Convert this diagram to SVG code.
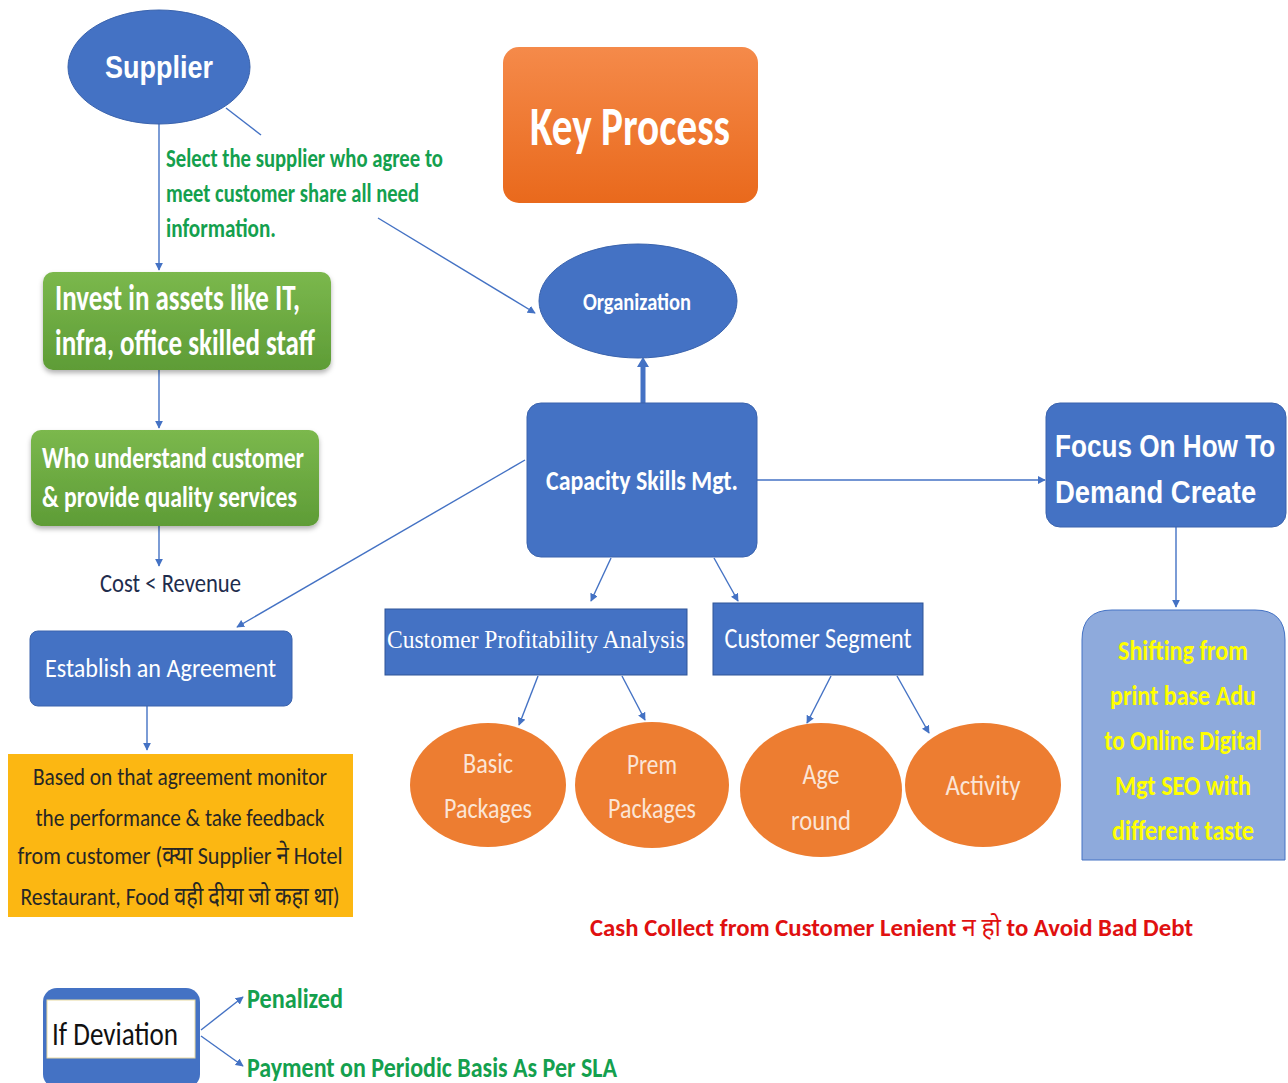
<svg xmlns="http://www.w3.org/2000/svg" width="1288" height="1083" viewBox="0 0 1288 1083">
  <defs>
    <linearGradient id="gGreen" x1="0" y1="0" x2="0" y2="1">
      <stop offset="0" stop-color="#7bb84d"/>
      <stop offset="1" stop-color="#5e9c36"/>
    </linearGradient>
    <linearGradient id="gOrange" x1="0" y1="0" x2="0" y2="1">
      <stop offset="0" stop-color="#f58a4a"/>
      <stop offset="1" stop-color="#e9691c"/>
    </linearGradient>
    <filter id="shadow" x="-10%" y="-10%" width="120%" height="130%">
      <feDropShadow dx="0" dy="3" stdDeviation="2.5" flood-color="#000" flood-opacity="0.3"/>
    </filter>
    <marker id="arr" viewBox="0 0 10 10" refX="9" refY="5" markerWidth="8" markerHeight="8" orient="auto" markerUnits="userSpaceOnUse">
      <path d="M0,0 L10,5 L0,10 z" fill="#4472c4"/>
    </marker>
    <style>
      .c { font-family: Carlito, "Liberation Sans Narrow", "Liberation Sans", "Noto Sans Devanagari", "Noto Sans", sans-serif; }
      .ar { font-family: "Liberation Sans", Arial, sans-serif; font-weight: bold; }
      .b { font-weight: bold; }
      .w { fill: #ffffff; }
      .blue { fill: #4472c4; }
      .line { stroke: #4472c4; stroke-width: 1.4; fill: none; marker-end: url(#arr); }
      .orange { fill: #ed7d31; }
      .pk { fill: #fbe5d6; font-size: 28px; text-anchor: middle; }
      .grn { fill: #14a04e; }
    </style>
  </defs>

  <rect width="1288" height="1083" fill="#ffffff"/>

  <!-- connectors -->
  <g id="connectors">
    <line class="line" x1="159" y1="124" x2="159" y2="270"/>
    <line x1="226" y1="108" x2="261" y2="135" stroke="#4472c4" stroke-width="1.4"/>
    <line class="line" x1="378" y1="218" x2="535" y2="313"/>
    <line class="line" x1="159" y1="370" x2="159" y2="428"/>
    <line class="line" x1="159" y1="526" x2="159" y2="566"/>
    <line class="line" x1="147" y1="706" x2="147" y2="750"/>
    <line class="line" x1="525" y1="460" x2="237" y2="627"/>
    <line x1="643" y1="403" x2="643" y2="366" stroke="#4472c4" stroke-width="5"/>
    <path d="M637,367 L643,357 L649,367 z" fill="#4472c4"/>
    <line class="line" x1="757" y1="480" x2="1045" y2="480"/>
    <line class="line" x1="611" y1="558" x2="591" y2="601"/>
    <line class="line" x1="714" y1="558" x2="738" y2="601"/>
    <line class="line" x1="1176" y1="527" x2="1176" y2="607"/>
    <line class="line" x1="538" y1="676" x2="519" y2="725"/>
    <line class="line" x1="622" y1="676" x2="645" y2="720"/>
    <line class="line" x1="831" y1="676" x2="807" y2="723"/>
    <line class="line" x1="897" y1="676" x2="929" y2="733"/>
    <line class="line" x1="201" y1="1030" x2="243" y2="997"/>
    <line class="line" x1="201" y1="1036" x2="243" y2="1066"/>
  </g>

  <!-- Supplier -->
  <g id="supplier">
    <ellipse cx="159" cy="67" rx="91" ry="57" class="blue" stroke="#3a63ad" stroke-width="1"/>
    <text x="159" y="78" text-anchor="middle" class="ar w" font-size="32" textLength="108" lengthAdjust="spacingAndGlyphs">Supplier</text>
  </g>

  <!-- Supplier selection note -->
  <g id="note-select" class="c grn b" font-size="26">
    <text x="166" y="167" textLength="277" lengthAdjust="spacingAndGlyphs">Select the supplier who agree to</text>
    <text x="166" y="202" textLength="253" lengthAdjust="spacingAndGlyphs">meet customer share all need</text>
    <text x="166" y="237" textLength="110" lengthAdjust="spacingAndGlyphs">information.</text>
  </g>

  <!-- Key Process -->
  <g id="key-process">
    <rect x="503" y="47" width="255" height="156" rx="16" fill="url(#gOrange)"/>
    <text x="630" y="145" text-anchor="middle" class="c w b" font-size="54" textLength="200" lengthAdjust="spacingAndGlyphs">Key Process</text>
  </g>

  <!-- Organization -->
  <g id="organization">
    <ellipse cx="638" cy="301" rx="99" ry="57" class="blue" stroke="#3a63ad" stroke-width="1"/>
    <text x="637" y="310" text-anchor="middle" class="c w b" font-size="25" textLength="108" lengthAdjust="spacingAndGlyphs">Organization</text>
  </g>

  <!-- Invest -->
  <g id="invest">
    <rect x="43" y="272" width="288" height="98" rx="10" fill="url(#gGreen)" filter="url(#shadow)"/>
    <text x="55" y="310" class="c w b" font-size="36" textLength="245" lengthAdjust="spacingAndGlyphs">Invest in assets like IT,</text>
    <text x="55" y="355" class="c w b" font-size="36" textLength="260" lengthAdjust="spacingAndGlyphs">infra, office skilled staff</text>
  </g>

  <!-- Who understand -->
  <g id="understand">
    <rect x="31" y="430" width="288" height="96" rx="10" fill="url(#gGreen)" filter="url(#shadow)"/>
    <text x="42" y="468" class="c w b" font-size="30" textLength="262" lengthAdjust="spacingAndGlyphs">Who understand customer</text>
    <text x="42" y="507" class="c w b" font-size="30" textLength="255" lengthAdjust="spacingAndGlyphs">&amp; provide quality services</text>
  </g>

  <!-- Cost < Revenue -->
  <g id="cost-revenue">
    <text x="100" y="592" class="c" fill="#1f2d4d" font-size="26" textLength="141" lengthAdjust="spacingAndGlyphs">Cost &lt; Revenue</text>
  </g>

  <!-- Establish an Agreement -->
  <g id="agreement">
    <rect x="30" y="631" width="262" height="75" rx="8" class="blue" stroke="#3a63ad" stroke-width="1"/>
    <text x="45" y="677" class="c w" font-size="27" textLength="231" lengthAdjust="spacingAndGlyphs">Establish an Agreement</text>
  </g>

  <!-- Monitoring -->
  <g id="monitor">
    <rect x="8" y="754" width="345" height="163" fill="#fcb712"/>
    <g class="c" fill="#262626" font-size="25" text-anchor="middle">
      <text x="180" y="785" textLength="294" lengthAdjust="spacingAndGlyphs">Based on that agreement  monitor</text>
      <text x="180" y="826" textLength="289" lengthAdjust="spacingAndGlyphs">the performance  &amp; take feedback</text>
      <text x="180" y="864" textLength="325" lengthAdjust="spacingAndGlyphs">from customer (क्या Supplier ने  Hotel</text>
      <text x="180" y="905" textLength="319" lengthAdjust="spacingAndGlyphs">Restaurant, Food वही दीया जो कहा था)</text>
    </g>
  </g>

  <!-- If Deviation -->
  <g id="deviation">
    <rect x="43" y="988" width="157" height="100" rx="14" class="blue"/>
    <rect x="47" y="1000" width="148" height="58" fill="#ffffff" stroke="#e8d9a0" stroke-width="1"/>
    <text x="52" y="1045" class="c" fill="#111" font-size="33" textLength="126" lengthAdjust="spacingAndGlyphs">If Deviation</text>
  </g>
  <g id="penalized">
    <text x="247" y="1008" class="c grn b" font-size="29" textLength="96" lengthAdjust="spacingAndGlyphs">Penalized</text>
  </g>
  <g id="payment">
    <text x="247" y="1077" class="c grn b" font-size="29" textLength="370" lengthAdjust="spacingAndGlyphs">Payment on Periodic Basis As Per SLA</text>
  </g>

  <!-- Capacity Skills Mgt. -->
  <g id="capacity">
    <rect x="527" y="403" width="230" height="154" rx="14" class="blue" stroke="#3a63ad" stroke-width="1"/>
    <text x="642" y="490" text-anchor="middle" class="c w b" font-size="29" textLength="192" lengthAdjust="spacingAndGlyphs">Capacity Skills Mgt.</text>
  </g>

  <!-- Focus On How To Demand Create (bold sans, horizontally condensed) -->
  <g id="focus">
    <rect x="1046" y="403" width="240" height="124" rx="14" class="blue" stroke="#3a63ad" stroke-width="1"/>
    <text transform="translate(1055,457) scale(0.86,1)" class="ar w" font-size="31" textLength="256" lengthAdjust="spacingAndGlyphs">Focus On How To</text>
    <text transform="translate(1055,503) scale(0.86,1)" class="ar w" font-size="31" textLength="234" lengthAdjust="spacingAndGlyphs">Demand Create</text>
  </g>

  <!-- Shifting -->
  <g id="shifting">
    <path d="M1112,610 H1255 Q1285,610 1285,640 V860 H1082 V640 Q1082,610 1112,610 z" fill="#8eaadc" stroke="#4472c4" stroke-width="1"/>
    <g class="c b" fill="#ffff00" font-size="28" text-anchor="middle">
      <text x="1183" y="660" textLength="130" lengthAdjust="spacingAndGlyphs">Shifting from</text>
      <text x="1183" y="705" textLength="146" lengthAdjust="spacingAndGlyphs">print base Adu</text>
      <text transform="translate(1183,750) scale(0.87,1)" textLength="181" lengthAdjust="spacingAndGlyphs">to Online Digital</text>
      <text x="1183" y="795" textLength="136" lengthAdjust="spacingAndGlyphs">Mgt SEO with</text>
      <text x="1183" y="840" textLength="142" lengthAdjust="spacingAndGlyphs">different taste</text>
    </g>
  </g>

  <!-- Customer Profitability Analysis -->
  <g id="profitability">
    <rect x="385" y="609" width="302" height="66" class="blue" stroke="#2f5597" stroke-width="1"/>
    <text x="536" y="648" text-anchor="middle" font-family="'Liberation Serif', 'Times New Roman', serif" class="w" font-size="26" textLength="298" lengthAdjust="spacingAndGlyphs">Customer Profitability  Analysis</text>
  </g>

  <!-- Customer Segment -->
  <g id="segment">
    <rect x="713" y="603" width="210" height="72" class="blue" stroke="#2f5597" stroke-width="1"/>
    <text x="818" y="648" text-anchor="middle" class="c w" font-size="28" textLength="187" lengthAdjust="spacingAndGlyphs">Customer Segment</text>
  </g>

  <!-- Packages and segments -->
  <g id="basic">
    <ellipse cx="488" cy="785" rx="78" ry="62" class="orange"/>
    <text x="488" y="773" class="c pk" textLength="50" lengthAdjust="spacingAndGlyphs">Basic</text>
    <text x="488" y="818" class="c pk" textLength="88" lengthAdjust="spacingAndGlyphs">Packages</text>
  </g>
  <g id="prem">
    <ellipse cx="652" cy="785" rx="77" ry="63" class="orange"/>
    <text x="652" y="774" class="c pk" textLength="50" lengthAdjust="spacingAndGlyphs">Prem</text>
    <text x="652" y="818" class="c pk" textLength="88" lengthAdjust="spacingAndGlyphs">Packages</text>
  </g>
  <g id="age">
    <ellipse cx="821" cy="790" rx="81" ry="67" class="orange"/>
    <text x="821" y="784" class="c pk" textLength="37" lengthAdjust="spacingAndGlyphs">Age</text>
    <text x="821" y="830" class="c pk" textLength="60" lengthAdjust="spacingAndGlyphs">round</text>
  </g>
  <g id="activity">
    <ellipse cx="983" cy="785" rx="78" ry="62" class="orange"/>
    <text x="983" y="795" class="c pk" textLength="75" lengthAdjust="spacingAndGlyphs">Activity</text>
  </g>

  <!-- Cash collection note -->
  <g id="cash-note">
    <text x="590" y="936" class="c b" fill="#e01010" font-size="25" textLength="603" lengthAdjust="spacingAndGlyphs">Cash Collect from Customer Lenient <tspan font-weight="normal">न हो</tspan> to Avoid Bad Debt</text>
  </g>
</svg>
